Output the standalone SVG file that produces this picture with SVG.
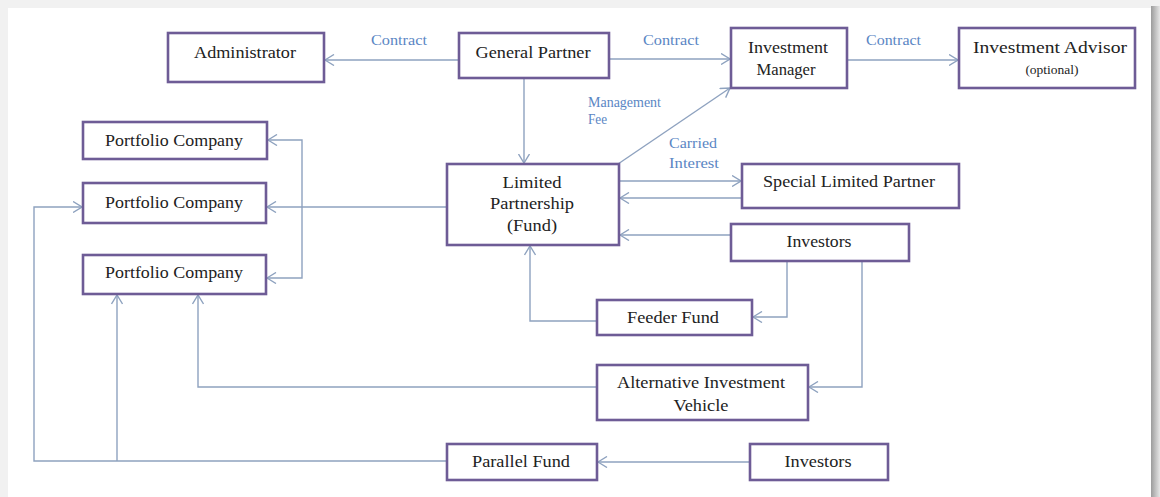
<svg xmlns="http://www.w3.org/2000/svg" width="1160" height="497" viewBox="0 0 1160 497">
  <defs>
    <linearGradient id="edgeShade" x1="0" y1="0" x2="1" y2="0">
      <stop offset="0" stop-color="#9c9c9c"/>
      <stop offset="1" stop-color="#e6e6e6"/>
    </linearGradient>
    <marker id="chev" viewBox="0 0 10 12" refX="9.5" refY="6" markerWidth="10" markerHeight="12" markerUnits="userSpaceOnUse" orient="auto-start-reverse">
      <path d="M0.5,0.5 L9.5,6 L0.5,11.5" fill="none" stroke="#8ea2bf" stroke-width="1.4"/>
    </marker>
    <style>
      .box { fill: #ffffff; stroke: #6e5c96; stroke-width: 2.6; }
      .lbl { font-family: "Liberation Serif", "Times New Roman", serif; font-size: 17px; fill: #222222; text-anchor: middle; }
      .sm { font-size: 13.5px; }
      .tag { font-family: "Liberation Serif", "Times New Roman", serif; font-size: 14.5px; fill: #5a86c4; }
      .wire { fill: none; stroke: #8ea2bf; stroke-width: 1.4; }
      .arr { marker-end: url(#chev); }
      .arr2 { marker-start: url(#chev); marker-end: url(#chev); }
    </style>
  </defs>

  <!-- page backdrop and sheet -->
  <rect x="0" y="0" width="1160" height="497" fill="#f1f1f1"/>
  <rect x="1151" y="6" width="9" height="491" fill="url(#edgeShade)"/>
  <rect x="8" y="8" width="1143" height="489" fill="#ffffff"/>

  <!-- connectors -->
  <g id="connectors">
    <path class="wire arr" d="M459,60 H325"/>
    <path class="wire arr" d="M609,59 H730"/>
    <path class="wire arr" d="M847,60 H958"/>
    <path class="wire arr" d="M524,78 V163"/>
    <path class="wire arr" d="M618,164 L730,88"/>
    <path class="wire arr" d="M619,181 H741"/>
    <path class="wire arr" d="M742,198 H620"/>
    <path class="wire arr" d="M731,235 H620"/>
    <path class="wire arr" d="M787,261 V317 H753"/>
    <path class="wire arr" d="M862,261 V387 H809"/>
    <path class="wire arr" d="M597,321 H530 V246"/>
    <path class="wire arr" d="M447,207 H267"/>
    <path class="wire arr2" d="M268,140 H302 V278 H267"/>
    <path class="wire arr" d="M597,387 H198 V295"/>
    <path class="wire arr" d="M447,461 H34 V207 H82"/>
    <path class="wire arr" d="M117,461 V295"/>
    <path class="wire arr" d="M750,462 H598"/>

    <text class="tag" x="371" y="45" textLength="56" lengthAdjust="spacingAndGlyphs">Contract</text>
    <text class="tag" x="643" y="45" textLength="56" lengthAdjust="spacingAndGlyphs">Contract</text>
    <text class="tag" x="866" y="45" textLength="55" lengthAdjust="spacingAndGlyphs">Contract</text>
    <text class="tag" x="588" y="107" textLength="73" lengthAdjust="spacingAndGlyphs">Management</text>
    <text class="tag" x="588" y="124" textLength="19" lengthAdjust="spacingAndGlyphs">Fee</text>
    <text class="tag" x="669" y="148" textLength="48" lengthAdjust="spacingAndGlyphs">Carried</text>
    <text class="tag" x="669" y="168" textLength="50" lengthAdjust="spacingAndGlyphs">Interest</text>
  </g>

  <!-- nodes -->
  <g id="administrator">
    <rect class="box" x="168" y="33" width="156" height="49"/>
    <text class="lbl" x="245" y="58" textLength="102" lengthAdjust="spacingAndGlyphs">Administrator</text>
  </g>
  <g id="general-partner">
    <rect class="box" x="459" y="33" width="150" height="45"/>
    <text class="lbl" x="533" y="58" textLength="115" lengthAdjust="spacingAndGlyphs">General Partner</text>
  </g>
  <g id="investment-manager">
    <rect class="box" x="731" y="28" width="116" height="60"/>
    <text class="lbl" x="788" y="53" textLength="80" lengthAdjust="spacingAndGlyphs">Investment</text>
    <text class="lbl" x="786" y="75" textLength="59" lengthAdjust="spacingAndGlyphs">Manager</text>
  </g>
  <g id="investment-advisor">
    <rect class="box" x="959" y="28" width="176" height="60"/>
    <text class="lbl" x="1050" y="53" textLength="154" lengthAdjust="spacingAndGlyphs">Investment Advisor</text>
    <text class="lbl sm" x="1052" y="74">(optional)</text>
  </g>
  <g id="portfolio-company-1">
    <rect class="box" x="83" y="122" width="184" height="37"/>
    <text class="lbl" x="174" y="146" textLength="138" lengthAdjust="spacingAndGlyphs">Portfolio Company</text>
  </g>
  <g id="portfolio-company-2">
    <rect class="box" x="83" y="183" width="183" height="40"/>
    <text class="lbl" x="174" y="208" textLength="138" lengthAdjust="spacingAndGlyphs">Portfolio Company</text>
  </g>
  <g id="portfolio-company-3">
    <rect class="box" x="83" y="255" width="183" height="39"/>
    <text class="lbl" x="174" y="278" textLength="138" lengthAdjust="spacingAndGlyphs">Portfolio Company</text>
  </g>
  <g id="limited-partnership">
    <rect class="box" x="447" y="164" width="172" height="81"/>
    <text class="lbl" x="532" y="188" textLength="59" lengthAdjust="spacingAndGlyphs">Limited</text>
    <text class="lbl" x="532" y="209" textLength="84" lengthAdjust="spacingAndGlyphs">Partnership</text>
    <text class="lbl" x="532" y="231" textLength="50" lengthAdjust="spacingAndGlyphs">(Fund)</text>
  </g>
  <g id="special-limited-partner">
    <rect class="box" x="742" y="164" width="217" height="44"/>
    <text class="lbl" x="849" y="187" textLength="172" lengthAdjust="spacingAndGlyphs">Special Limited Partner</text>
  </g>
  <g id="investors-fund">
    <rect class="box" x="731" y="224" width="178" height="37"/>
    <text class="lbl" x="819" y="247" textLength="65" lengthAdjust="spacingAndGlyphs">Investors</text>
  </g>
  <g id="feeder-fund">
    <rect class="box" x="597" y="300" width="155" height="35"/>
    <text class="lbl" x="673" y="323" textLength="92" lengthAdjust="spacingAndGlyphs">Feeder Fund</text>
  </g>
  <g id="alternative-investment-vehicle">
    <rect class="box" x="597" y="365" width="211" height="55"/>
    <text class="lbl" x="701" y="388" textLength="168" lengthAdjust="spacingAndGlyphs">Alternative Investment</text>
    <text class="lbl" x="701" y="411" textLength="55" lengthAdjust="spacingAndGlyphs">Vehicle</text>
  </g>
  <g id="parallel-fund">
    <rect class="box" x="447" y="444" width="150" height="36"/>
    <text class="lbl" x="521" y="467" textLength="98" lengthAdjust="spacingAndGlyphs">Parallel Fund</text>
  </g>
  <g id="investors-parallel">
    <rect class="box" x="750" y="444" width="138" height="36"/>
    <text class="lbl" x="818" y="467" textLength="67" lengthAdjust="spacingAndGlyphs">Investors</text>
  </g>
</svg>
